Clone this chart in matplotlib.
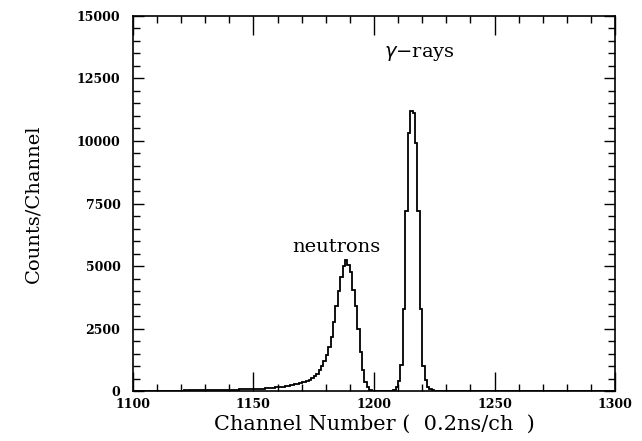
import numpy as np
import matplotlib
matplotlib.use("Agg")
import matplotlib.pyplot as plt
from matplotlib.ticker import MultipleLocator

# Channel bins (1 channel per bin), 1100..1299
channel_start = 1100
counts = [
    # 1100-1119
    10, 10, 12, 10, 14, 12, 15, 14, 16, 15, 18, 16, 20, 18, 20, 22, 20, 24, 22, 25,
    # 1120-1139
    26, 28, 26, 30, 30, 32, 34, 33, 36, 38, 40, 40, 42, 45, 46, 48, 50, 52, 55, 58,
    # 1140-1159
    58, 60, 62, 65, 68, 70, 72, 75, 78, 82, 86, 90, 95, 100, 105, 112, 120, 130, 140, 150,
    # 1160-1179
    160, 170, 185, 200, 215, 230, 250, 270, 290, 320, 350, 380, 420, 460, 520, 600, 700, 830, 1000, 1200,
    # 1180-1199
    1450, 1750, 2150, 2750, 3400, 4000, 4550, 5000, 5250, 5050, 4750, 4050, 3400, 2500, 1550, 850, 380, 150, 50, 20,
    # 1200-1219
    8, 0, 0, 0, 0, 0, 5, 20, 60, 170, 420, 1050, 3300, 7200, 10300, 11200, 11100, 9900, 7200, 3300,
    # 1220-1239
    1000, 450, 180, 70, 30, 10, 5, 0, 0, 0, 0, 0, 0, 0, 0, 0, 0, 0, 0, 0,
    # 1240-1259
    0, 0, 0, 0, 0, 0, 0, 0, 0, 0, 0, 0, 0, 0, 0, 0, 0, 0, 0, 0,
    # 1260-1279
    0, 0, 0, 0, 0, 0, 0, 0, 0, 0, 0, 0, 0, 0, 0, 0, 0, 0, 0, 0,
    # 1280-1299
    0, 0, 0, 0, 0, 0, 0, 0, 0, 0, 0, 0, 0, 0, 0, 0, 0, 0, 0, 0,
]
edges = np.arange(channel_start, channel_start + len(counts) + 1)

x_ticks = [1100, 1150, 1200, 1250, 1300]
y_ticks = [0, 2500, 5000, 7500, 10000, 12500, 15000]

fig = plt.figure(figsize=(6.42, 4.41), dpi=100)
ax = fig.add_axes([0.207, 0.113, 0.751, 0.851])

ax.stairs(counts, edges, color="black", linewidth=1.3)

ax.set_xlim(1100, 1300)
ax.set_ylim(0, 15000)
ax.set_xticks(x_ticks)
ax.set_yticks(y_ticks)
ax.xaxis.set_minor_locator(MultipleLocator(10))
ax.yaxis.set_minor_locator(MultipleLocator(500))

ax.tick_params(axis="x", which="major", direction="in", length=14, width=1, top=True, pad=5)
ax.tick_params(axis="x", which="minor", direction="in", length=5, width=1, top=True)
ax.tick_params(axis="y", which="major", direction="in", length=8, width=1, right=True, pad=9)
ax.tick_params(axis="y", which="minor", direction="in", length=5, width=1, right=True)

for lbl in ax.get_xticklabels() + ax.get_yticklabels():
    lbl.set_fontfamily("DejaVu Serif")
    lbl.set_fontweight("bold")
    lbl.set_fontsize(9)

for s in ax.spines.values():
    s.set_linewidth(1.2)

ax.set_xlabel("Channel Number (  0.2ns/ch  )", fontfamily="DejaVu Serif", fontsize=15, labelpad=3)
ax.set_ylabel("Counts/Channel", fontfamily="DejaVu Serif", fontsize=14, labelpad=25)

ax.text(1184.3, 5560, "neutrons", fontfamily="DejaVu Serif", fontsize=14, ha="center", va="baseline")
ax.text(1219, 13350, "$\\gamma$\u2212rays", fontfamily="DejaVu Serif", fontsize=14, ha="center", va="baseline")

fig.savefig("out.png", dpi=100)
